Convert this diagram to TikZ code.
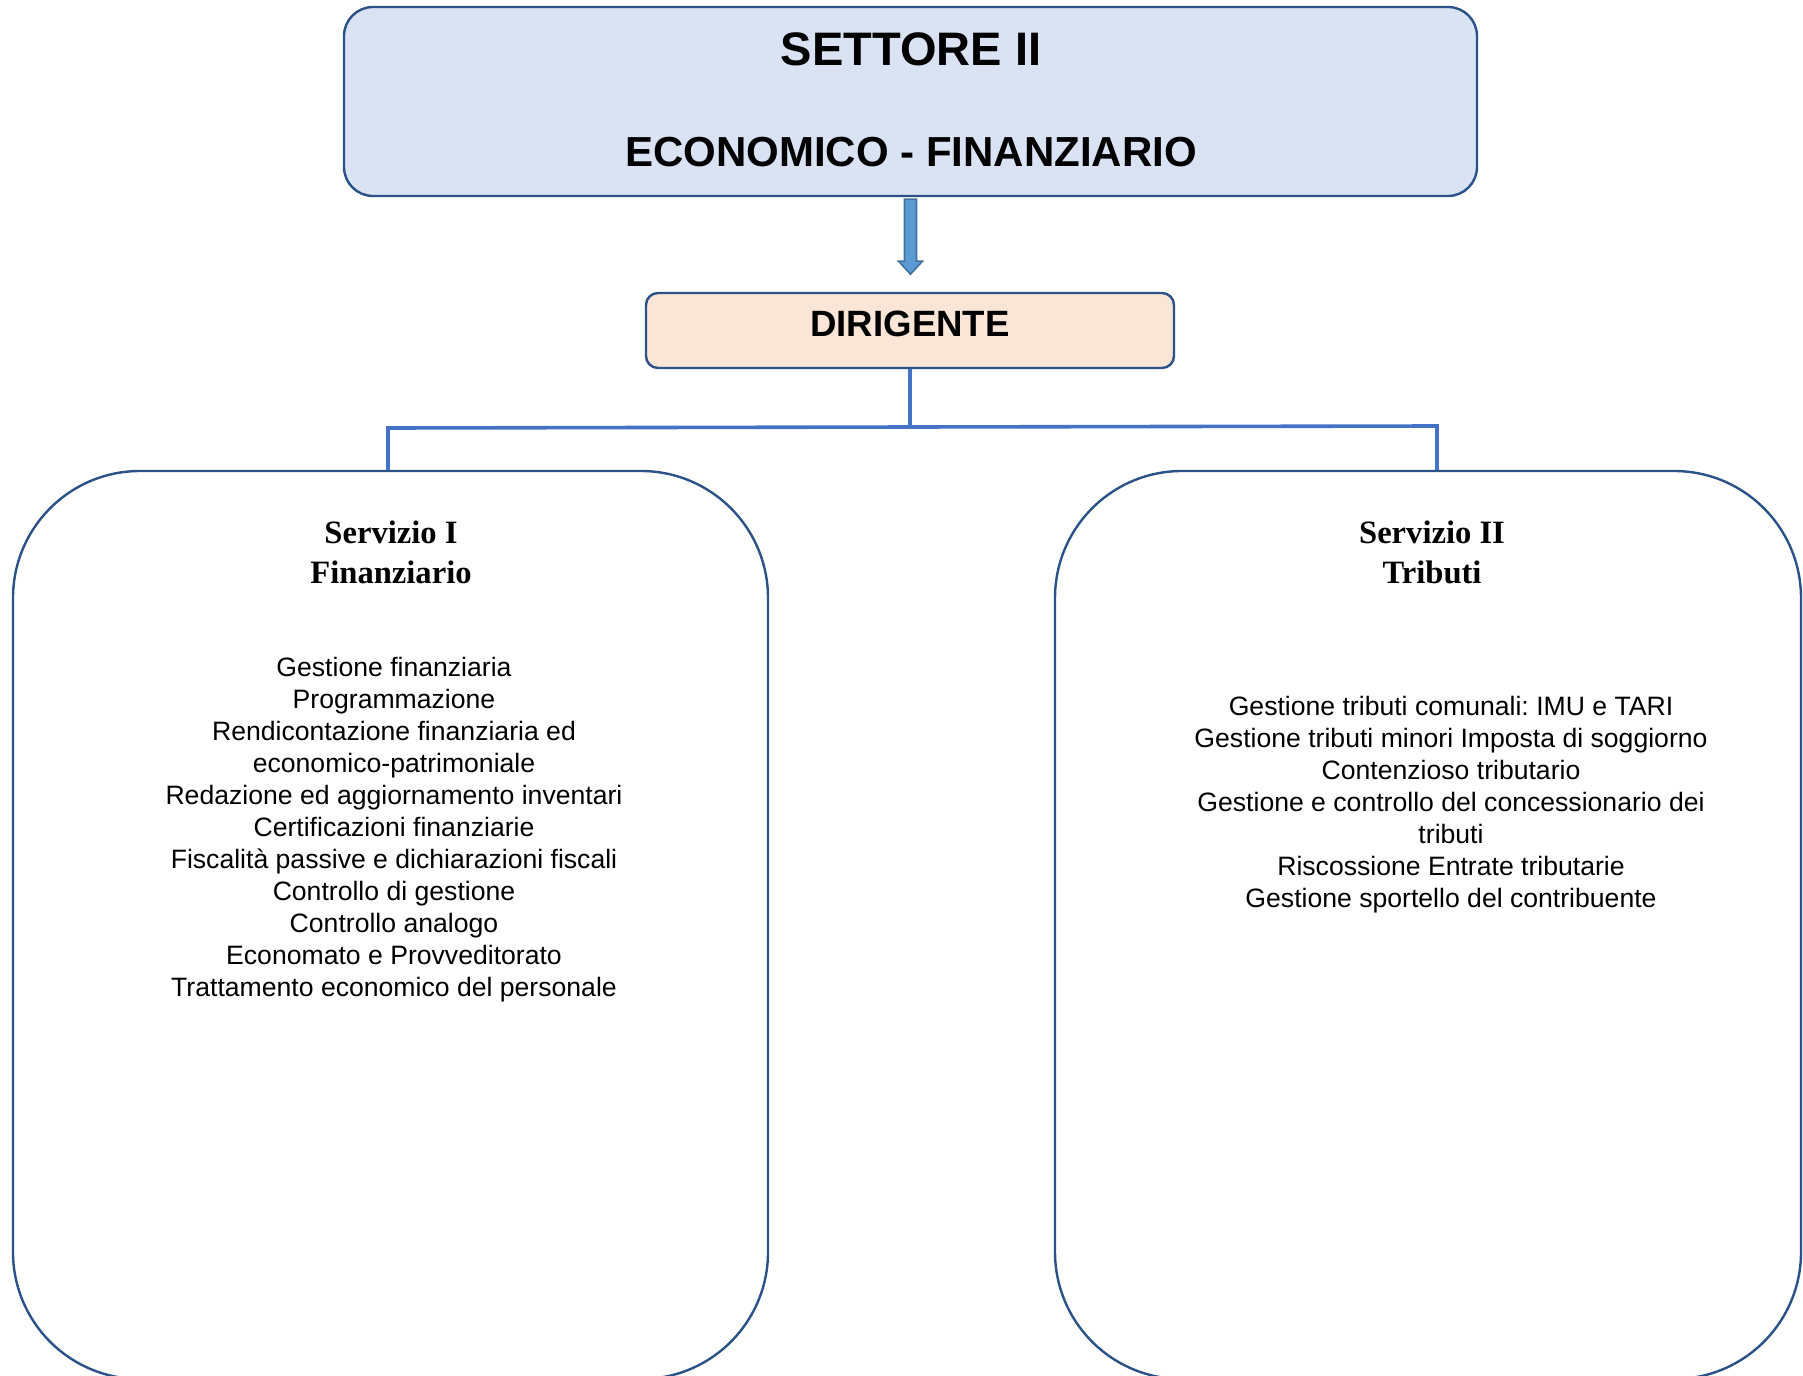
\documentclass[tikz,border=0pt]{standalone}
\usepackage{fontspec}
\setmainfont{Liberation Sans}
\newfontfamily\servfont{Liberation Serif}
\frenchspacing
\usetikzlibrary{calc}
\definecolor{bordo}{HTML}{2A5286}
\definecolor{azzurro}{HTML}{DAE3F3}
\definecolor{pesca}{HTML}{FBE5D6}
\definecolor{linea}{HTML}{4472C4}
\definecolor{freccia}{HTML}{5B9BD5}
\definecolor{frecciabordo}{HTML}{41719C}
\tikzstyle{settorebox}=[draw=bordo,line width=1.2pt,fill=azzurro,rounded corners=14.5pt,minimum width=566.5pt,minimum height=94.5pt,inner sep=0pt]
\tikzstyle{dirbox}=[draw=bordo,line width=1.2pt,fill=pesca,rounded corners=6pt,minimum width=264pt,minimum height=37.5pt,inner sep=0pt,font=\bfseries\fontsize{18.3pt}{22pt}\selectfont,text height=13.1pt,text depth=7pt]
\tikzstyle{servbox}=[draw=bordo,line width=1.2pt,rounded corners=63.5pt,minimum height=454pt,inner sep=0pt]
\tikzstyle{titolo}=[anchor=base,inner sep=0pt]
\tikzstyle{intest}=[anchor=base,inner sep=0pt,font=\servfont\bfseries\fontsize{16.3pt}{19.5pt}\selectfont]
\tikzstyle{voce}=[anchor=base,inner sep=0pt,font=\fontsize{13.3pt}{16pt}\selectfont]
\tikzstyle{conn}=[draw=linea,line width=1.8pt]
\tikzstyle{blockarrow}=[draw=frecciabordo,fill=freccia,line width=0.8pt]

\begin{document}
\begin{tikzpicture}[x=0.5pt,y=-0.5pt]
    \useasboundingbox (0,0) rectangle (1803,1375);
    % Settore and dirigente
    \node[settorebox] (settore) at (910.5,101.5) {};
    \node[titolo,font=\bfseries\fontsize{23.5pt}{28pt}\selectfont] (sett1) at (911,66) {SETTORE II};
    \node[titolo,font=\bfseries\fontsize{21pt}{25pt}\selectfont] (sett2) at (911,167) {ECONOMICO - FINANZIARIO};
    \node[dirbox] (dirigente) at (910,330.5) {DIRIGENTE};
    \draw[blockarrow] (settore.south) ++(-6,2) -- ++(12,0) -- ++(0,62) -- ++(6,0) -- ++(-12,13) -- ++(-12,-13) -- ++(6,0) -- cycle;

    % Servizi
    \node[servbox,minimum width=377.5pt] (serv1) at (390.5,925) {};
    \node[servbox,minimum width=373pt] (serv2) at (1428,925) {};
    \node[intest] (serv1a) at (391,543) {Servizio I};
    \node[intest] (serv1b) at (391,583) {Finanziario};
    \node[intest] (serv2a) at (1432,543) {Servizio II};
    \node[intest] (serv2b) at (1432,583) {Tributi};

    \foreach \txt [count=\i] in {Gestione finanziaria, Programmazione, Rendicontazione finanziaria ed, economico-patrimoniale, Redazione ed aggiornamento inventari, Certificazioni finanziarie, Fiscalità passive e dichiarazioni fiscali, Controllo di gestione, Controllo analogo, Economato e Provveditorato, Trattamento economico del personale}
        \node[voce] (fin\i) at (394,{676+32*(\i-1)}) {\txt};
    \foreach \txt [count=\i] in {Gestione tributi comunali: IMU e TARI, Gestione tributi minori Imposta di soggiorno, Contenzioso tributario, Gestione e controllo del concessionario dei, tributi, Riscossione Entrate tributarie, Gestione sportello del contribuente}
        \node[voce] (trib\i) at (1451,{715+32*(\i-1)}) {\txt};

    % Connectors
    \coordinate (bus1) at (388,428);
    \coordinate (bus2) at (1437,426);
    \draw[conn] (dirigente.south) -- (dirigente.south |- bus1);
    \draw[conn] (bus1 |- serv1.north) -- (bus1) -- (bus2) -- (bus2 |- serv2.north);
\end{tikzpicture}
\end{document}
